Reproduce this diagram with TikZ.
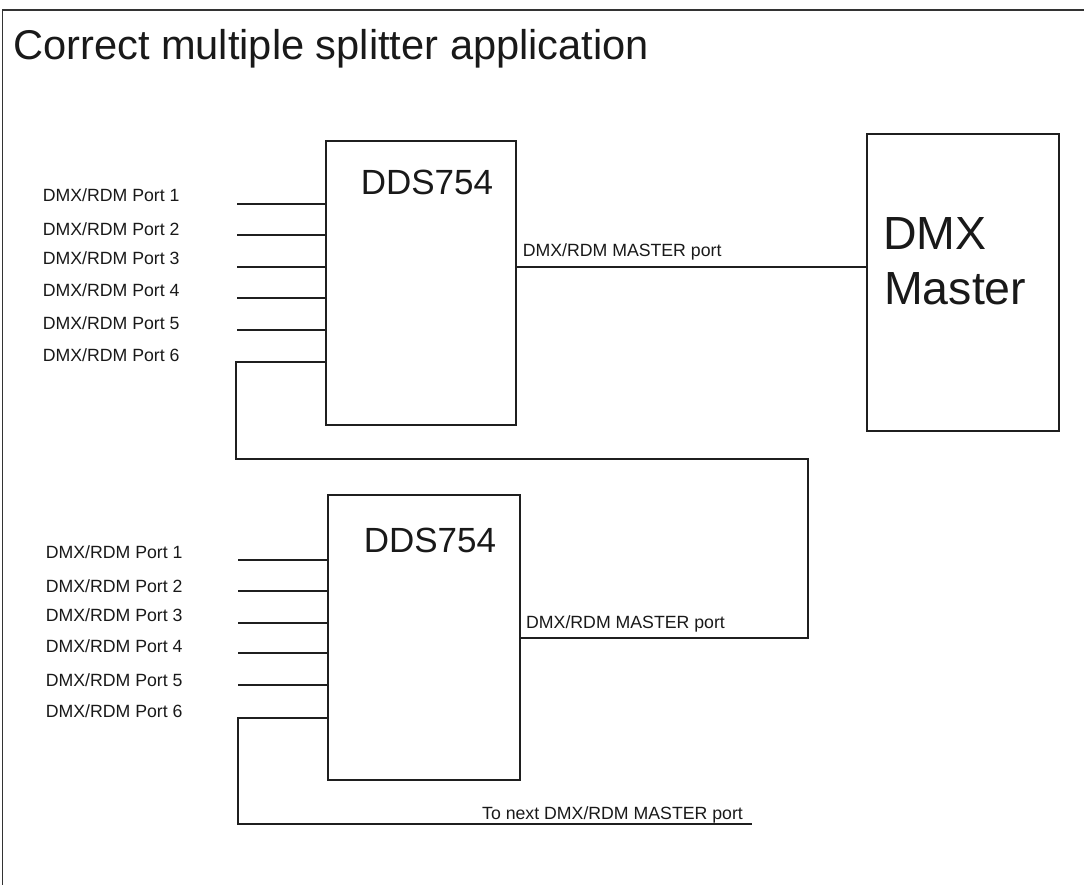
\documentclass[tikz,border=0pt]{standalone}
\usepackage{fontspec}
\setmainfont{Liberation Sans}
\begin{document}
\begin{tikzpicture}[x=1pt,y=-1pt,
  box/.style={draw=black!88, line width=1.1pt, inner sep=0pt, outer sep=0pt},
  wire/.style={draw=black!88, line width=1.1pt},
  frame/.style={draw=black!80, line width=1.4pt},
  lbl/.style={inner sep=0pt, anchor=base west, font=\fontsize{17.7}{20}\selectfont, text=black!90},
  devlbl/.style={inner sep=0pt, anchor=base, font=\fontsize{35}{40}\selectfont, text=black!90},
  mstlbl/.style={inner sep=0pt, anchor=base west, font=\fontsize{46.5}{52}\selectfont, text=black!90},
  ttl/.style={inner sep=0pt, anchor=base west, font=\fontsize{41.6}{48}\selectfont, text=black!90}]
\useasboundingbox (0,0) rectangle (1084,885);
% frame
\coordinate (frA) at (1084,10);
\coordinate (frB) at (2.5,10);
\coordinate (frC) at (2.5,885);
\draw[frame] (frA) -- (frB) -- (frC);
\node[ttl] (title) at (13,60) {Correct multiple splitter application};
% boxes
\node[box, minimum width=190, minimum height=284, anchor=north west] (b1) at (326,141) {};
\node[devlbl] (b1t) at (427,195) {DDS754};
\node[box, minimum width=192, minimum height=285, anchor=north west] (b2) at (328,495) {};
\node[devlbl] (b2t) at (430,552) {DDS754};
\node[box, minimum width=192, minimum height=297, anchor=north west] (dmx) at (867,134) {};
\node[mstlbl] (dmxt1) at (883,250) {DMX};
\node[mstlbl] (dmxt2) at (884,305) {Master};
% ports box 1
\foreach \i/\ly/\ty in {1/204/202, 2/235/236, 3/267/265, 4/298/297, 5/330/330} {
  \coordinate (pa\i) at (237,\ly);
  \draw[wire] (pa\i) -- (pa\i -| b1.west);
  \node[lbl] (la\i) at (42.6,\ty) {DMX/RDM Port \i};
}
\node[lbl] (la6) at (42.6,361) {DMX/RDM Port 6};
% ports box 2
\foreach \i/\ly/\ty in {1/560/558, 2/591/592.5, 3/623/621, 4/653/652.5, 5/685/686} {
  \coordinate (pb\i) at (238,\ly);
  \draw[wire] (pb\i) -- (pb\i -| b2.west);
  \node[lbl] (lb\i) at (45.6,\ty) {DMX/RDM Port \i};
}
\node[lbl] (lb6) at (45.6,717.5) {DMX/RDM Port 6};
% master link
\coordinate (mk) at (700,267);
\draw[wire] (b1.east |- mk) -- (dmx.west |- mk);
\node[lbl] (m1) at (522.6,257) {DMX/RDM MASTER port};
% chain from box1 port 6 to box2 master port
\coordinate (c1) at (236,362);
\coordinate (c2) at (236,459);
\coordinate (c3) at (808,459);
\coordinate (c4) at (808,638);
\draw[wire] (c1 -| b1.west) -- (c1) -- (c2) -- (c3) -- (c4) -- (c4 -| b2.east);
\node[lbl] (m2) at (526,628) {DMX/RDM MASTER port};
% box2 port 6 to next
\coordinate (d1) at (238,718);
\coordinate (d2) at (238,824);
\coordinate (d3) at (752,824);
\draw[wire] (d1 -| b2.west) -- (d1) -- (d2) -- (d3);
\node[lbl] (nx) at (482,819) {To next DMX/RDM MASTER port};
\end{tikzpicture}
\end{document}
